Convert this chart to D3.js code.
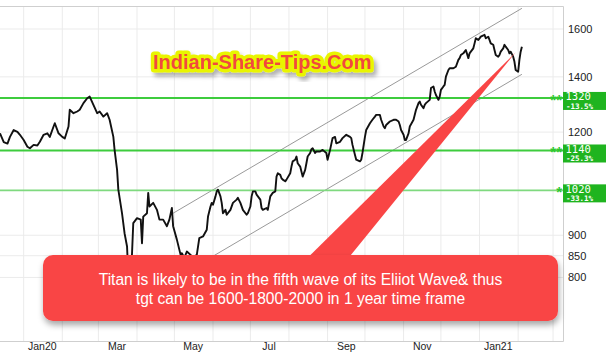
<!DOCTYPE html>
<html>
<head>
<meta charset="utf-8">
<script src="https://cdn.jsdelivr.net/npm/d3@7"></script>
<style>
  body { margin: 0; background: #fff; }
  svg { display: block; font-family: "Liberation Sans", Arial, sans-serif; }
</style>
</head>
<body>
<div id="chart"></div>
<script>
// Titan daily closes, Dec 2019 - Feb 2021
var priceDates = [
  "2019-12-13","2019-12-16","2019-12-19","2019-12-21","2019-12-24","2019-12-27","2019-12-29",
  "2020-01-01","2020-01-04","2020-01-06","2020-01-09","2020-01-12","2020-01-14","2020-01-17",
  "2020-01-20","2020-01-22","2020-01-25","2020-01-26","2020-01-29","2020-02-01","2020-02-03",
  "2020-02-06","2020-02-07","2020-02-10","2020-02-13","2020-02-15","2020-02-18","2020-02-21",
  "2020-02-23","2020-02-26","2020-02-29","2020-03-02","2020-03-05","2020-03-08","2020-03-10",
  "2020-03-13","2020-03-14","2020-03-16","2020-03-17","2020-03-20","2020-03-22","2020-03-24",
  "2020-03-26","2020-03-27","2020-03-28","2020-03-29","2020-04-01","2020-04-04","2020-04-05",
  "2020-04-06","2020-04-09","2020-04-10","2020-04-11","2020-04-14","2020-04-17","2020-04-19",
  "2020-04-22","2020-04-25","2020-04-27","2020-04-29","2020-04-30","2020-05-03","2020-05-06",
  "2020-05-07","2020-05-09","2020-05-11","2020-05-14","2020-05-16","2020-05-19","2020-05-21",
  "2020-05-24","2020-05-27","2020-05-28","2020-05-30","2020-05-31","2020-06-01","2020-06-03",
  "2020-06-04","2020-06-05","2020-06-07","2020-06-08","2020-06-09","2020-06-11","2020-06-12",
  "2020-06-15","2020-06-17","2020-06-20","2020-06-21","2020-06-23","2020-06-25","2020-06-28",
  "2020-06-29","2020-07-01","2020-07-02","2020-07-03","2020-07-05","2020-07-06","2020-07-09",
  "2020-07-10","2020-07-11","2020-07-14","2020-07-15","2020-07-17","2020-07-18","2020-07-19",
  "2020-07-21","2020-07-22","2020-07-23","2020-07-25","2020-07-26","2020-07-27","2020-07-29",
  "2020-07-30","2020-08-02","2020-08-03","2020-08-04","2020-08-06","2020-08-07","2020-08-08",
  "2020-08-10","2020-08-11","2020-08-12","2020-08-14","2020-08-15","2020-08-16","2020-08-18",
  "2020-08-19","2020-08-20","2020-08-22","2020-08-23","2020-08-26","2020-08-28","2020-08-31",
  "2020-09-01","2020-09-03","2020-09-05","2020-09-07","2020-09-08","2020-09-11","2020-09-13",
  "2020-09-16","2020-09-19","2020-09-20","2020-09-21","2020-09-23","2020-09-24","2020-09-27",
  "2020-09-28","2020-09-29","2020-10-01","2020-10-02","2020-10-05","2020-10-07","2020-10-09",
  "2020-10-10","2020-10-13","2020-10-14","2020-10-16","2020-10-17","2020-10-18","2020-10-21",
  "2020-10-24","2020-10-26","2020-10-28","2020-10-29","2020-10-30","2020-11-01","2020-11-02",
  "2020-11-03","2020-11-05","2020-11-06","2020-11-09","2020-11-11","2020-11-13","2020-11-14",
  "2020-11-15","2020-11-17","2020-11-18","2020-11-19","2020-11-22","2020-11-23","2020-11-25",
  "2020-11-26","2020-11-27","2020-11-29","2020-11-30","2020-12-01","2020-12-03","2020-12-04",
  "2020-12-05","2020-12-07","2020-12-08","2020-12-11","2020-12-13","2020-12-15","2020-12-16",
  "2020-12-17","2020-12-19","2020-12-20","2020-12-21","2020-12-23","2020-12-24","2020-12-25",
  "2020-12-27","2020-12-28","2020-12-29","2020-12-31","2021-01-01","2021-01-02","2021-01-05",
  "2021-01-06","2021-01-08","2021-01-09","2021-01-10","2021-01-12","2021-01-13","2021-01-14",
  "2021-01-16","2021-01-17","2021-01-18","2021-01-20","2021-01-21","2021-01-22","2021-01-24",
  "2021-01-25","2021-01-26","2021-01-28","2021-01-29","2021-01-30","2021-02-01","2021-02-02",
  "2021-02-03","2021-02-04"
];
var priceCloses = [
  1196,1167,1162,1184,1207,1201,1191,
  1174,1152,1147,1158,1156,1168,1191,
  1196,1184,1219,1230,1196,1184,1179,
  1219,1277,1265,1271,1277,1301,1319,
  1325,1295,1265,1271,1253,1265,1242,
  1184,1142,1080,1022,956,905,872,
  745,790,856,931,944,940,880,
  948,957,1013,975,985,966,940,
  940,923,940,971,923,889,852,
  856,845,860,852,845,852,893,
  897,914,948,975,985,980,1003,
  1017,1022,1003,985,957,966,953,
  966,985,994,999,985,966,953,
  957,975,1003,1017,1017,1008,994,
  971,966,971,966,1003,1008,1013,
  1017,1060,1070,1065,1055,1051,1046,
  1051,1070,1090,1106,1111,1121,1100,
  1090,1075,1060,1080,1100,1121,1132,
  1144,1147,1132,1137,1137,1142,1132,
  1111,1142,1180,1184,1163,1168,1180,
  1191,1184,1180,1158,1126,1111,1106,
  1111,1132,1184,1207,1230,1242,1253,
  1259,1259,1242,1219,1213,1224,1236,
  1242,1242,1236,1224,1207,1191,1174,
  1174,1196,1219,1242,1277,1301,1307,
  1295,1283,1295,1301,1313,1357,1363,
  1344,1331,1313,1325,1350,1363,1369,
  1401,1427,1434,1434,1440,1468,1475,
  1488,1495,1502,1509,1475,1495,1502,
  1516,1537,1559,1552,1559,1566,1574,
  1559,1566,1552,1537,1531,1509,1488,
  1481,1488,1502,1516,1531,1523,1509,
  1495,1502,1481,1461,1427,1420,1468,
  1502,1523
];

// trend channel (two parallel lines)
var channelDates = ["2020-04-30", "2021-02-04"];
var channelUpper = [957, 1695];
var channelLower = [795, 1410];

// horizontal support levels
var levelValues = [1320, 1140, 1020];
var levelPct = ["-13.5%", "-25.3%", "-33.1%"];
var levelStars = ["**", "**", "*"];

// axes
var yTicks = [800, 850, 900, 1200, 1400, 1600];
var monthLabels = ["Jan20", "Mar", "May", "Jul", "Sep", "Nov", "Jan21"];
var monthLabelDates = ["2020-01-16", "2020-03-16", "2020-05-16", "2020-07-16", "2020-09-16", "2020-11-16", "2021-01-16"];

// red callout arrow: tip, then two base points (hidden under the box)
var arrowDates = ["2021-01-30", "2020-07-21", "2020-08-28"];
var arrowValues = [1499, 773, 773];

var noteLines = ["Titan is likely to be in the fifth wave of its Eliiot Wave& thus",
                 "tgt can be 1600-1800-2000 in 1 year time frame"];
var watermark = "Indian-Share-Tips.Com";

var width = 606, height = 354,
    plot = {left: 0, right: 563, top: 6, bottom: 341},
    parse = d3.timeParse("%Y-%m-%d"),
    red = "#f94545";

var xScale = d3.scaleTime()
  .domain([parse("2019-12-13"), parse("2021-03-09")])
  .range([plot.left, plot.right]);
var yScale = d3.scaleLog()
  .domain([670, 1706])
  .range([plot.bottom, plot.top]);

var svg = d3.select("#chart").append("svg")
  .attr("width", width).attr("height", height);

var defs = svg.append("defs");
defs.append("clipPath").attr("id", "plotClip")
  .append("rect").attr("x", plot.left).attr("y", plot.top)
  .attr("width", plot.right - plot.left).attr("height", plot.bottom - plot.top);
var f1 = defs.append("filter").attr("id", "boxShadow")
  .attr("x", "-10%").attr("y", "-20%").attr("width", "120%").attr("height", "150%");
f1.append("feDropShadow").attr("dx", 1).attr("dy", 4).attr("stdDeviation", 3)
  .attr("flood-color", "#000").attr("flood-opacity", 0.35);
var f2 = defs.append("filter").attr("id", "wmShadow")
  .attr("x", "-10%").attr("y", "-30%").attr("width", "120%").attr("height", "170%");
f2.append("feDropShadow").attr("dx", 3).attr("dy", 4).attr("stdDeviation", 2)
  .attr("flood-color", "#000").attr("flood-opacity", 0.3);

// grid
var grid = svg.append("g").attr("clip-path", "url(#plotClip)");
grid.selectAll("line.vg")
  .data(d3.timeMonth.range(xScale.domain()[0], xScale.domain()[1]))
  .join("line").attr("class", "vg")
  .attr("x1", d => xScale(d)).attr("x2", d => xScale(d))
  .attr("y1", plot.top).attr("y2", plot.bottom)
  .attr("stroke", "#ebebeb").attr("stroke-width", 1);
grid.selectAll("line.hg")
  .data(yTicks)
  .join("line").attr("class", "hg")
  .attr("x1", plot.left).attr("x2", plot.right)
  .attr("y1", d => yScale(d)).attr("y2", d => yScale(d))
  .attr("stroke", "#ebebeb").attr("stroke-width", 1);

// frame
svg.append("path")
  .attr("d", "M" + plot.left + "," + (plot.top + 0.5) + "H" + (plot.right + 0.5) +
             "V" + (plot.bottom + 0.5) + "H" + plot.left)
  .attr("fill", "none").attr("stroke", "#cfcfcf").attr("stroke-width", 1);

var pg = svg.append("g").attr("clip-path", "url(#plotClip)");

// channel lines
[channelUpper, channelLower].forEach(function(vals) {
  pg.append("line")
    .attr("x1", xScale(parse(channelDates[0]))).attr("y1", yScale(vals[0]))
    .attr("x2", xScale(parse(channelDates[1]))).attr("y2", yScale(vals[1]))
    .attr("stroke", "#9a9a9a").attr("stroke-width", 1);
});

// support levels
pg.selectAll("line.lvl")
  .data(levelValues)
  .join("line").attr("class", "lvl")
  .attr("x1", plot.left).attr("x2", plot.right)
  .attr("y1", d => yScale(d)).attr("y2", d => yScale(d))
  .attr("stroke", (d, i) => i === 2 ? "#7fd97f" : "#3dcc3d")
  .attr("stroke-width", (d, i) => i === 2 ? 1.6 : 2);

// price line
var priceData = priceDates.map((d, i) => ({date: parse(d), close: priceCloses[i]}));
pg.append("path")
  .datum(priceData)
  .attr("fill", "none")
  .attr("stroke", "#111")
  .attr("stroke-width", 1.9)
  .attr("stroke-linejoin", "round")
  .attr("d", d3.line().x(d => xScale(d.date)).y(d => yScale(d.close)));

// right axis labels
svg.selectAll("text.ytick")
  .data(yTicks)
  .join("text").attr("class", "ytick")
  .attr("x", 568).attr("y", d => yScale(d) + 4)
  .attr("font-size", 11).attr("fill", "#222")
  .text(d => d);

// month labels
svg.selectAll("text.xtick")
  .data(monthLabels)
  .join("text").attr("class", "xtick")
  .attr("x", (d, i) => xScale(parse(monthLabelDates[i])))
  .attr("y", 350)
  .attr("text-anchor", "middle")
  .attr("font-size", 10.5).attr("fill", "#222")
  .text(d => d);

// level tags on the right
var tags = svg.selectAll("g.tag")
  .data(levelValues)
  .join("g").attr("class", "tag")
  .attr("transform", d => "translate(0," + yScale(d) + ")");
tags.append("text")
  .attr("x", 562).attr("y", 7)
  .attr("text-anchor", "end")
  .attr("font-size", 15).attr("font-weight", "bold").attr("fill", "#2ec82e")
  .text((d, i) => levelStars[i]);
tags.append("rect")
  .attr("x", 563).attr("y", -6).attr("width", 46).attr("height", 18)
  .attr("fill", "#1fb41f");
tags.append("text")
  .attr("x", 565.5).attr("y", 2.5)
  .attr("font-family", "'DejaVu Sans Mono', monospace")
  .attr("font-size", 10.5).attr("fill", "#fff")
  .text(d => d);
tags.append("text")
  .attr("x", 566).attr("y", 11)
  .attr("font-family", "'DejaVu Sans Mono', monospace")
  .attr("font-size", 7.5).attr("font-weight", "bold").attr("fill", "#fff")
  .text((d, i) => levelPct[i]);

// watermark
svg.append("text")
  .attr("x", 153).attr("y", 69)
  .attr("font-size", 20).attr("font-weight", "bold")
  .attr("fill", "#f2483c")
  .attr("stroke", "#e9f500").attr("stroke-width", 7)
  .attr("stroke-linejoin", "round")
  .attr("paint-order", "stroke")
  .attr("filter", "url(#wmShadow)")
  .text(watermark);

// callout arrow + box
svg.append("path")
  .attr("d", d3.line()(arrowDates.map((d, i) => [xScale(parse(d)), yScale(arrowValues[i])])) + "Z")
  .attr("fill", red);
svg.append("rect")
  .attr("x", 43).attr("y", 255).attr("width", 515).attr("height", 66)
  .attr("rx", 10).attr("ry", 10)
  .attr("fill", red)
  .attr("filter", "url(#boxShadow)");
svg.selectAll("text.note")
  .data(noteLines)
  .join("text").attr("class", "note")
  .attr("x", 300.5).attr("y", (d, i) => 285 + i * 19)
  .attr("text-anchor", "middle")
  .attr("font-size", 15.6).attr("fill", "#fff")
  .text(d => d);
</script>
</body>
</html>
